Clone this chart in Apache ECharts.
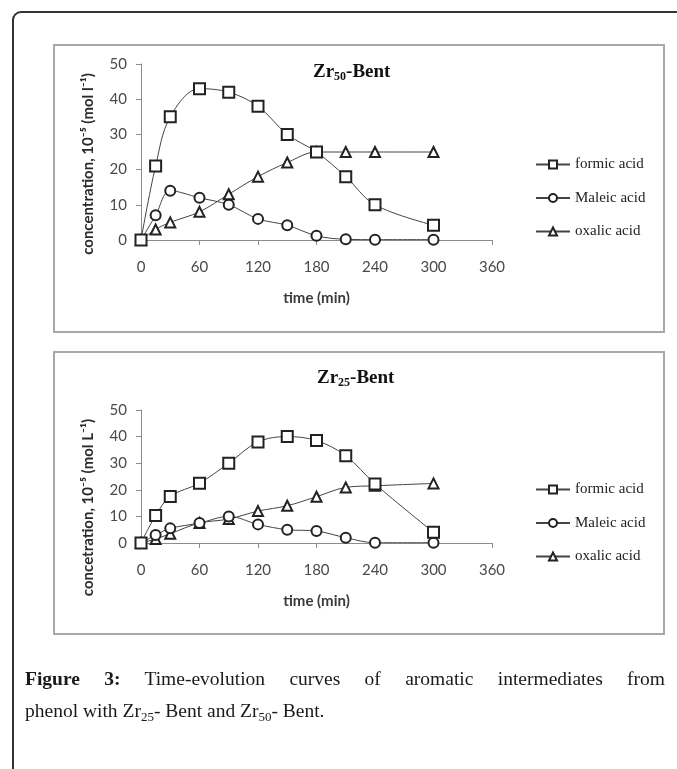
<!DOCTYPE html>
<html>
<head>
<meta charset="utf-8">
<script src="https://cdn.jsdelivr.net/npm/echarts@6/dist/echarts.min.js"></script>
<style>
  html, body { margin: 0; padding: 0; background: #fff; }
  #page { position: relative; width: 677px; height: 769px; overflow: hidden; }
  #chart { position: absolute; left: 0; top: 0; width: 677px; height: 769px; }
  .caption { position: absolute; left: 25px; width: 640px; font-family: "Liberation Serif", serif; font-size: 19.5px; color: #1a1a1a; }
  .line1 { top: 668px; text-align: justify; text-align-last: justify; }
  .line2 { top: 700px; }
  .caption b { font-weight: bold; }
  sub { font-size: 13px; vertical-align: -4px; line-height: 0; }
</style>
</head>
<body>
<div id="page">
  <div id="chart"></div>
  <div class="caption line1"><b>Figure 3:</b> Time-evolution curves of aromatic intermediates from</div>
  <div class="caption line2">phenol with Zr<sub>25</sub>- Bent and Zr<sub>50</sub>- Bent.</div>
</div>
<script>
// time axis (min)
var times = [0, 15, 30, 60, 90, 120, 150, 180, 210, 240, 300];
var xTicks = [0, 60, 120, 180, 240, 300, 360];
var yTicks = [0, 10, 20, 30, 40, 50];

// Zr50-Bent (top panel)
var zr50Formic = [0, 21, 35, 43, 42, 38, 30, 25, 18, 10, 4.2];
var zr50Maleic = [0, 7, 14, 12, 10, 6, 4.2, 1.2, 0.2, 0.1, 0.1];
var zr50Oxalic = [0, 3, 5, 8, 13, 18, 22, 25, 25, 25, 25];

// Zr25-Bent (bottom panel)
var zr25Formic = [0, 10.3, 17.5, 22.5, 30, 38, 40, 38.5, 32.8, 22.2, 4];
var zr25Maleic = [0, 3, 5.5, 7.5, 10, 7, 5, 4.5, 2, 0.1, 0.1];
var zr25Oxalic = [0, 1.5, 3.5, 7.5, 9, 12, 14, 17.4, 20.9, 21.5, 22.4];

var names = ['formic acid', 'Maleic acid', 'oxalic acid'];
var symbols = ['emptyRect', 'emptyCircle', 'emptyTriangle'];
var symSizes = [11, 10, 10];

function pairs(vals) {
  return times.map(function (t, i) { return [t, vals[i]]; });
}

var chart = echarts.init(document.getElementById('chart'));

var axisFont = 'Lato, "Open Sans", sans-serif';

function xAx(idx) {
  return {
    gridIndex: idx, type: 'value', min: 0, max: 360, interval: 60,
    name: 'time (min)', nameLocation: 'middle', nameGap: 51,
    nameTextStyle: { fontFamily: axisFont, fontSize: 15, fontWeight: 'bold', color: '#3a3a3a' },
    axisLine: { lineStyle: { color: '#8c8c8c', width: 1 } },
    axisTick: { show: true, length: 5, lineStyle: { color: '#8c8c8c' } },
    axisLabel: { margin: 20, fontFamily: axisFont, fontSize: 15, color: '#4a4a4a',
      formatter: function (v) { return xTicks.indexOf(v) >= 0 ? v : ''; } },
    splitLine: { show: false }
  };
}
function yAx(idx, label, shift) {
  return {
    gridIndex: idx, type: 'value', min: 0, max: 50, interval: 10,
    name: label, nameLocation: 'middle', nameGap: 45,
    nameTextStyle: { fontFamily: axisFont, fontSize: 15, fontWeight: 'bold', color: '#2a2a2a',
      padding: [0, shift * 2, 0, 0] },
    axisLine: { show: true, lineStyle: { color: '#8c8c8c', width: 1 } },
    axisTick: { show: true, length: 5, lineStyle: { color: '#8c8c8c' } },
    axisLabel: { margin: 14, fontFamily: axisFont, fontSize: 15, color: '#4a4a4a',
      formatter: function (v) { return yTicks.indexOf(v) >= 0 ? v : ''; } },
    splitLine: { show: false }
  };
}

function mkSeries(idx, sets) {
  return sets.map(function (vals, k) {
    return {
      name: names[k], type: 'line', xAxisIndex: idx, yAxisIndex: idx,
      data: pairs(vals), smooth: 0.35,
      symbol: symbols[k], symbolSize: symSizes[k],
      lineStyle: { color: '#444', width: 1 },
      itemStyle: { color: '#222', borderColor: '#222', borderWidth: 1 },
      emphasis: { disabled: true },
      z: 3 - k
    };
  });
}

var titleRich = {
  b: { fontFamily: '"Liberation Serif", serif', fontSize: 19, fontWeight: 'bold', color: '#111', lineHeight: 22 },
  s: { fontFamily: '"Liberation Serif", serif', fontSize: 12, fontWeight: 'bold', color: '#111', verticalAlign: 'bottom', lineHeight: 15 }
};

function legend(top) {
  return {
    data: names, orient: 'vertical', left: 530, top: top,
    itemWidth: 34, itemHeight: 10, itemGap: 18.5,
    textStyle: { fontFamily: '"Liberation Serif", serif', fontSize: 15, color: '#222' },
    selectedMode: false
  };
}

chart.setOption({
  animation: false,
  graphic: [
    { type: 'rect', shape: { x: 13, y: 12, width: 720, height: 820, r: 8 },
      style: { fill: 'none', stroke: '#333', lineWidth: 2 } },
    { type: 'rect', shape: { x: 54, y: 45, width: 610, height: 287 },
      style: { fill: 'none', stroke: '#a8a8a8', lineWidth: 2 } },
    { type: 'rect', shape: { x: 54, y: 352, width: 610, height: 282 },
      style: { fill: 'none', stroke: '#a8a8a8', lineWidth: 2 } }
  ],
  title: [
    { text: '{b|Zr}{s|50}{b|-Bent}', left: 313, top: 61, padding: 0, textStyle: { rich: titleRich } },
    { text: '{b|Zr}{s|25}{b|-Bent}', left: 317, top: 367, padding: 0, textStyle: { rich: titleRich } }
  ],
  legend: [legend(152), legend(477)],
  grid: [
    { left: 141, top: 64, width: 351, height: 176 },
    { left: 141, top: 410, width: 351, height: 133 }
  ],
  xAxis: [xAx(0), xAx(1)],
  yAxis: [
    yAx(0, 'concentration, 10\u207B\u2075 (mol l\u207B\u00B9)', 12),
    yAx(1, 'concetration, 10\u207B\u2075 (mol L\u207B\u00B9)', 31)
  ],
  series: mkSeries(0, [zr50Formic, zr50Maleic, zr50Oxalic])
    .concat(mkSeries(1, [zr25Formic, zr25Maleic, zr25Oxalic]))
});
</script>
</body>
</html>
